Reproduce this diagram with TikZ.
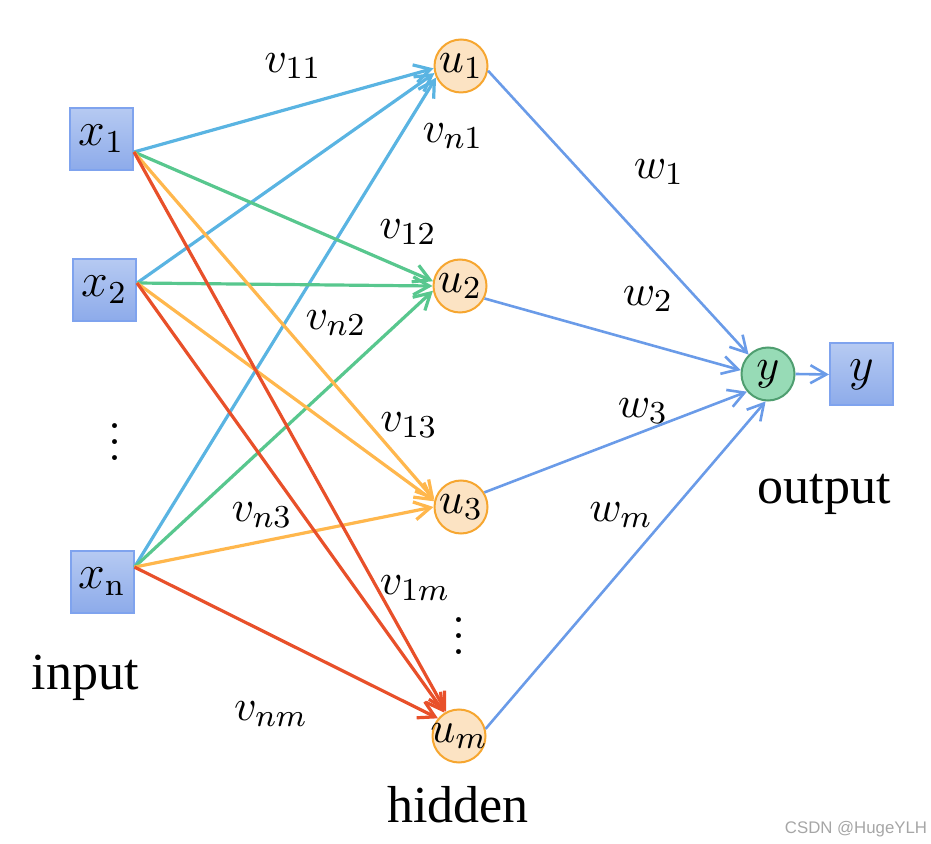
\documentclass[tikz,border=0pt]{standalone}
\usepackage{fontspec}
\usetikzlibrary{arrows.meta}
\newfontfamily\wordfont{Liberation Serif}
\newfontfamily\wmfont{Liberation Sans}
\definecolor{cblue}{HTML}{5AB4E2}
\definecolor{cgreen}{HTML}{58C78E}
\definecolor{corange}{HTML}{FFB74D}
\definecolor{cred}{HTML}{E8502A}
\definecolor{cout}{HTML}{6A9BE8}
\definecolor{boxtop}{HTML}{B6CAF2}
\definecolor{boxbot}{HTML}{8DABEA}
\definecolor{boxline}{HTML}{7FA3EE}
\definecolor{ufill}{HTML}{FCE3C3}
\definecolor{uline}{HTML}{F6A630}
\definecolor{yfill}{HTML}{97DBB6}
\definecolor{yline}{HTML}{4F9E70}
\tikzset{
  inbox/.style={draw=boxline, line width=0.5pt, top color=boxtop, bottom color=boxbot,
    minimum width=15.75pt, minimum height=15.5pt, inner sep=0pt, font=\fontsize{12}{14}\selectfont},
  hid/.style={circle, draw=uline, fill=ufill, line width=0.5pt, minimum size=13.25pt,
    inner sep=0pt, font=\fontsize{11}{13}\selectfont},
  outc/.style={circle, draw=yline, fill=yfill, line width=0.5pt, minimum size=13.25pt,
    inner sep=0pt, font=\fontsize{11}{13}\selectfont},
  conn/.style={line width=0.8pt, -{Straight Barb[length=4pt,width=4.5pt]}},
  oconn/.style={line width=0.65pt, cout, -{Straight Barb[length=4pt,width=4.5pt]}},
  wlab/.style={font=\fontsize{11}{13}\selectfont, inner sep=0pt},
  word/.style={font=\wordfont\fontsize{13}{15}\selectfont, inner sep=0pt},
  dots/.style={font=\fontsize{15}{17}\selectfont, inner sep=0pt},
}
\begin{document}
\begin{tikzpicture}[x=0.25pt, y=-0.25pt]
\useasboundingbox (0,0) rectangle (931,844);
% nodes
\node[inbox] (x1) at (101.5,139) {$x_1$};
\node[inbox] (x2) at (104.5,290) {$x_2$};
\node[inbox] (xn) at (102,581.5) {$x_{\mathrm{n}}$};
\node[inbox] (yb) at (861.5,374.5) {$y$};
\node[hid] (u1) at (461,66) {\makebox[0pt]{$u_1$}};
\node[hid] (u2) at (460,286) {\makebox[0pt]{$u_2$}};
\node[hid] (u3) at (461,507) {\makebox[0pt]{$u_3$}};
\node[hid] (um) at (459,736) {\makebox[0pt]{$u_m$}};
\node[outc] (y) at (768,374) {\makebox[0pt]{$y$}};
\node[dots] (d1) at (115,430) {$\vdots$};
\node[dots] (d2) at (459,624) {$\vdots$};
\node[word] (lin) at (85,678) {input};
\node[word] (lhid) at (458,805) {hidden};
\node[word] (lout) at (824,494) {output};
% connectors input -> hidden
\draw[conn, cblue] ([yshift=-3.25pt]x1.east) -- (u1.185);
\draw[conn, cblue] ([yshift=1.75pt]x2.east) -- (u1.195);
\draw[conn, cblue] ([yshift=3.6pt]xn.east) -- (u1.205);
\draw[conn, cgreen] ([yshift=-3.25pt]x1.east) -- (u2.170);
\draw[conn, cgreen] ([yshift=1.75pt]x2.east) -- (u2.180);
\draw[conn, cgreen] ([yshift=3.6pt]xn.east) -- (u2.190);
\draw[conn, corange] ([yshift=-3.25pt]x1.east) -- (u3.165);
\draw[conn, corange] ([yshift=1.75pt]x2.east) -- (u3.168);
\draw[conn, corange] ([yshift=3.6pt]xn.east) -- (u3.180);
\draw[conn, cred] ([yshift=-3.25pt]x1.east) -- (um.118);
\draw[conn, cred] ([yshift=1.75pt]x2.east) -- (um.122);
\draw[conn, cred] ([yshift=3.6pt]xn.east) -- (um.140);
% hidden -> output
\draw[oconn] (u1.-10) -- (y.135);
\draw[oconn] (u2.-27) -- (y.172);
\draw[oconn] (u3.32) -- (y.220);
\draw[oconn] (um.15) -- (y.265);
\draw[oconn] (y.east) -- (yb.west);
% weight labels
\node[wlab] (lv11) at (293,66) {$v_{11}$};
\node[wlab] (lvn1) at (453,136) {$v_{n1}$};
\node[wlab] (lv12) at (408,232) {$v_{12}$};
\node[wlab] (lvn2) at (336,323) {$v_{n2}$};
\node[wlab] (lv13) at (409,425) {$v_{13}$};
\node[wlab] (lvn3) at (262,515) {$v_{n3}$};
\node[wlab] (lv1m) at (415,588) {$v_{1m}$};
\node[wlab] (lvnm) at (271,714) {$v_{nm}$};
\node[wlab] (lw1) at (659,172) {$w_1$};
\node[wlab] (lw2) at (648,299) {$w_2$};
\node[wlab] (lw3) at (643,411) {$w_3$};
\node[wlab] (lwm) at (621,515) {$w_m$};
\node[font=\wmfont\fontsize{4.2}{5}\selectfont, text=gray!70, inner sep=0pt] (wm) at (856,829) {CSDN @HugeYLH};
\end{tikzpicture}
\end{document}
